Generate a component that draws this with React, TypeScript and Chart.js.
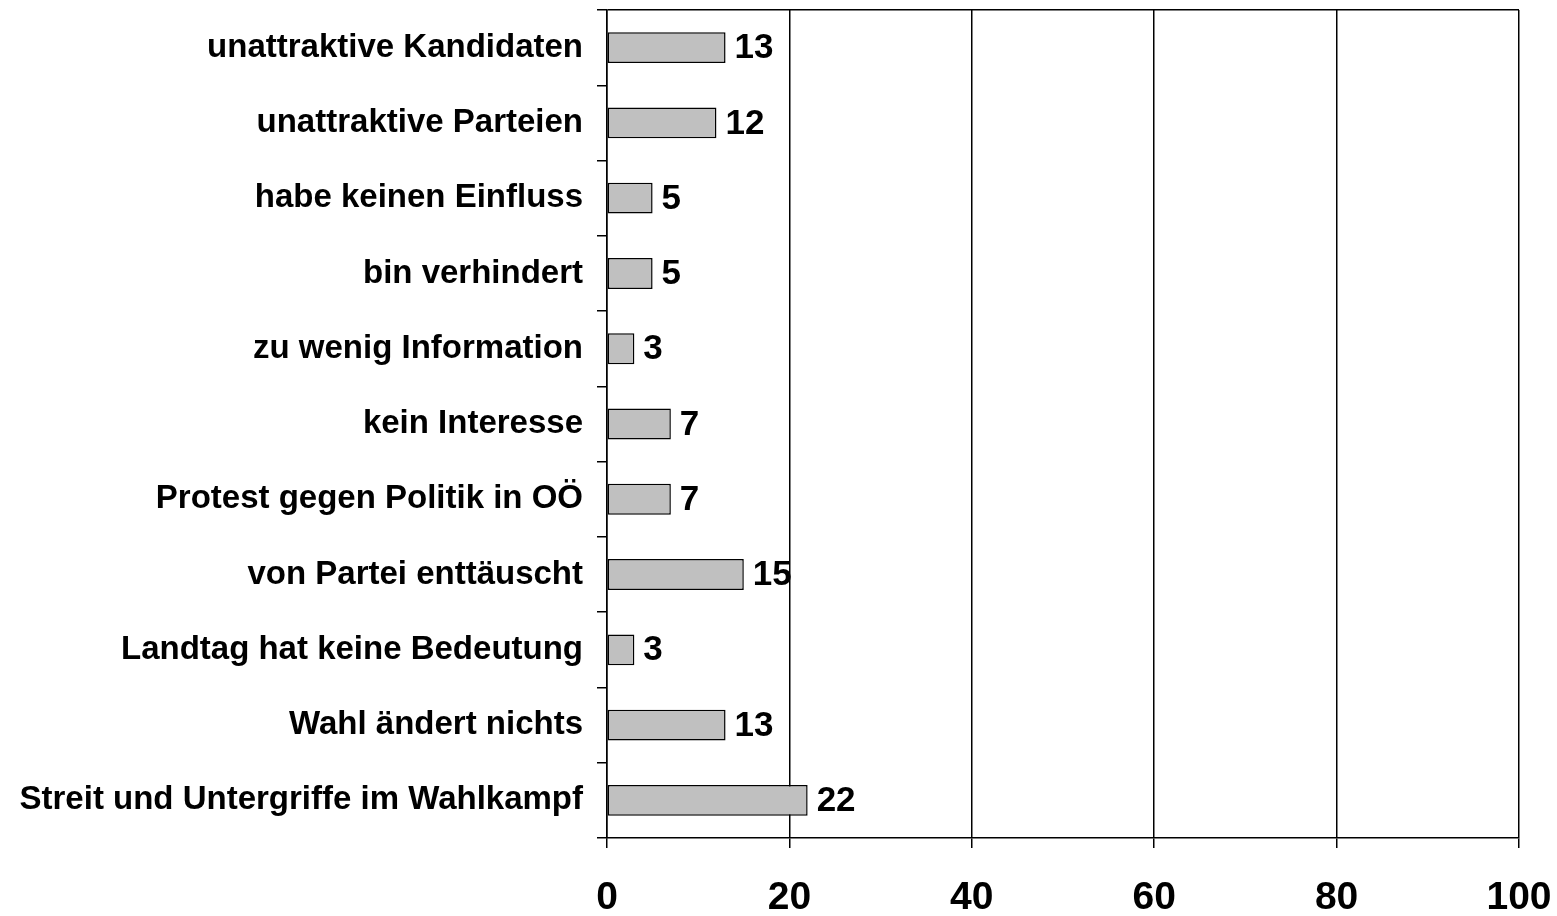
import React, { useEffect, useRef } from "react";
import { Chart, registerables } from "chart.js";

Chart.register(...registerables);

const categories: string[] = [
  "unattraktive Kandidaten",
  "unattraktive Parteien",
  "habe keinen Einfluss",
  "bin verhindert",
  "zu wenig Information",
  "kein Interesse",
  "Protest gegen Politik in OÖ",
  "von Partei enttäuscht",
  "Landtag hat keine Bedeutung",
  "Wahl ändert nichts",
  "Streit und Untergriffe im Wahlkampf",
];

const values: number[] = [13, 12, 5, 5, 3, 7, 7, 15, 3, 13, 22];

const xTicks: number[] = [0, 20, 40, 60, 80, 100];

const FONT = "'Liberation Sans', Arial, sans-serif";

const valueLabels = {
  id: "valueLabels",
  afterDatasetsDraw(chart: any) {
    const ctx = chart.ctx;
    const meta = chart.getDatasetMeta(0);
    ctx.save();
    ctx.font = `bold 35px ${FONT}`;
    ctx.fillStyle = "#000";
    ctx.textAlign = "left";
    ctx.textBaseline = "middle";
    meta.data.forEach((bar: any, i: number) => {
      ctx.fillText(String(values[i]), bar.x + 9, bar.y + 1);
    });
    ctx.restore();
  },
};

export default function App() {
  const ref = useRef<HTMLCanvasElement | null>(null);

  useEffect(() => {
    if (!ref.current) return;
    const chart = new Chart(ref.current, {
      type: "bar",
      data: {
        labels: categories,
        datasets: [
          {
            data: values,
            backgroundColor: "#c0c0c0",
            borderColor: "#000",
            borderWidth: 1.5,
            borderSkipped: false,
            categoryPercentage: 1,
            barPercentage: 0.41,
          },
        ],
      },
      options: {
        indexAxis: "y",
        animation: false,
        responsive: false,
        layout: { padding: { top: 10, right: 38, left: 0, bottom: 0 } },
        plugins: {
          legend: { display: false },
          tooltip: { enabled: false },
        },
        scales: {
          x: {
            type: "linear",
            min: 0,
            max: 100,
            afterBuildTicks: (scale: any) => {
              scale.ticks = xTicks.map((v) => ({ value: v }));
            },
            afterFit: (scale: any) => {
              scale.height = 78;
              scale.paddingLeft = 0;
              scale.paddingRight = 0;
            },
            grid: {
              color: "#000",
              lineWidth: 1.5,
              tickLength: 10,
              tickColor: "#000",
            },
            border: { display: true, color: "#000", width: 1.5 },
            ticks: {
              color: "#000",
              padding: 27,
              maxRotation: 0,
              font: { family: FONT, size: 39, weight: "bold" },
            },
          },
          y: {
            type: "category",
            afterFit: (scale: any) => {
              scale.width = 607;
              scale.paddingTop = 0;
              scale.paddingBottom = 0;
            },
            grid: {
              offset: true,
              drawOnChartArea: true,
              color: (ctx: any) => (ctx.index === 0 ? "#000" : "rgba(0,0,0,0)"),
              tickColor: "#000",
              lineWidth: 1.5,
              tickLength: 10,
            },
            border: { display: true, color: "#000", width: 1.5 },
            ticks: {
              color: "#000",
              padding: 14,
              autoSkip: false,
              font: { family: FONT, size: 33, weight: "bold" },
            },
          },
        },
      },
      plugins: [valueLabels],
    });
    return () => chart.destroy();
  }, []);

  return (
    <div style={{ position: "fixed", left: 0, top: 0, width: 1557, height: 916, background: "#fff" }}>
      <canvas ref={ref} width={1557} height={916} />
    </div>
  );
}
